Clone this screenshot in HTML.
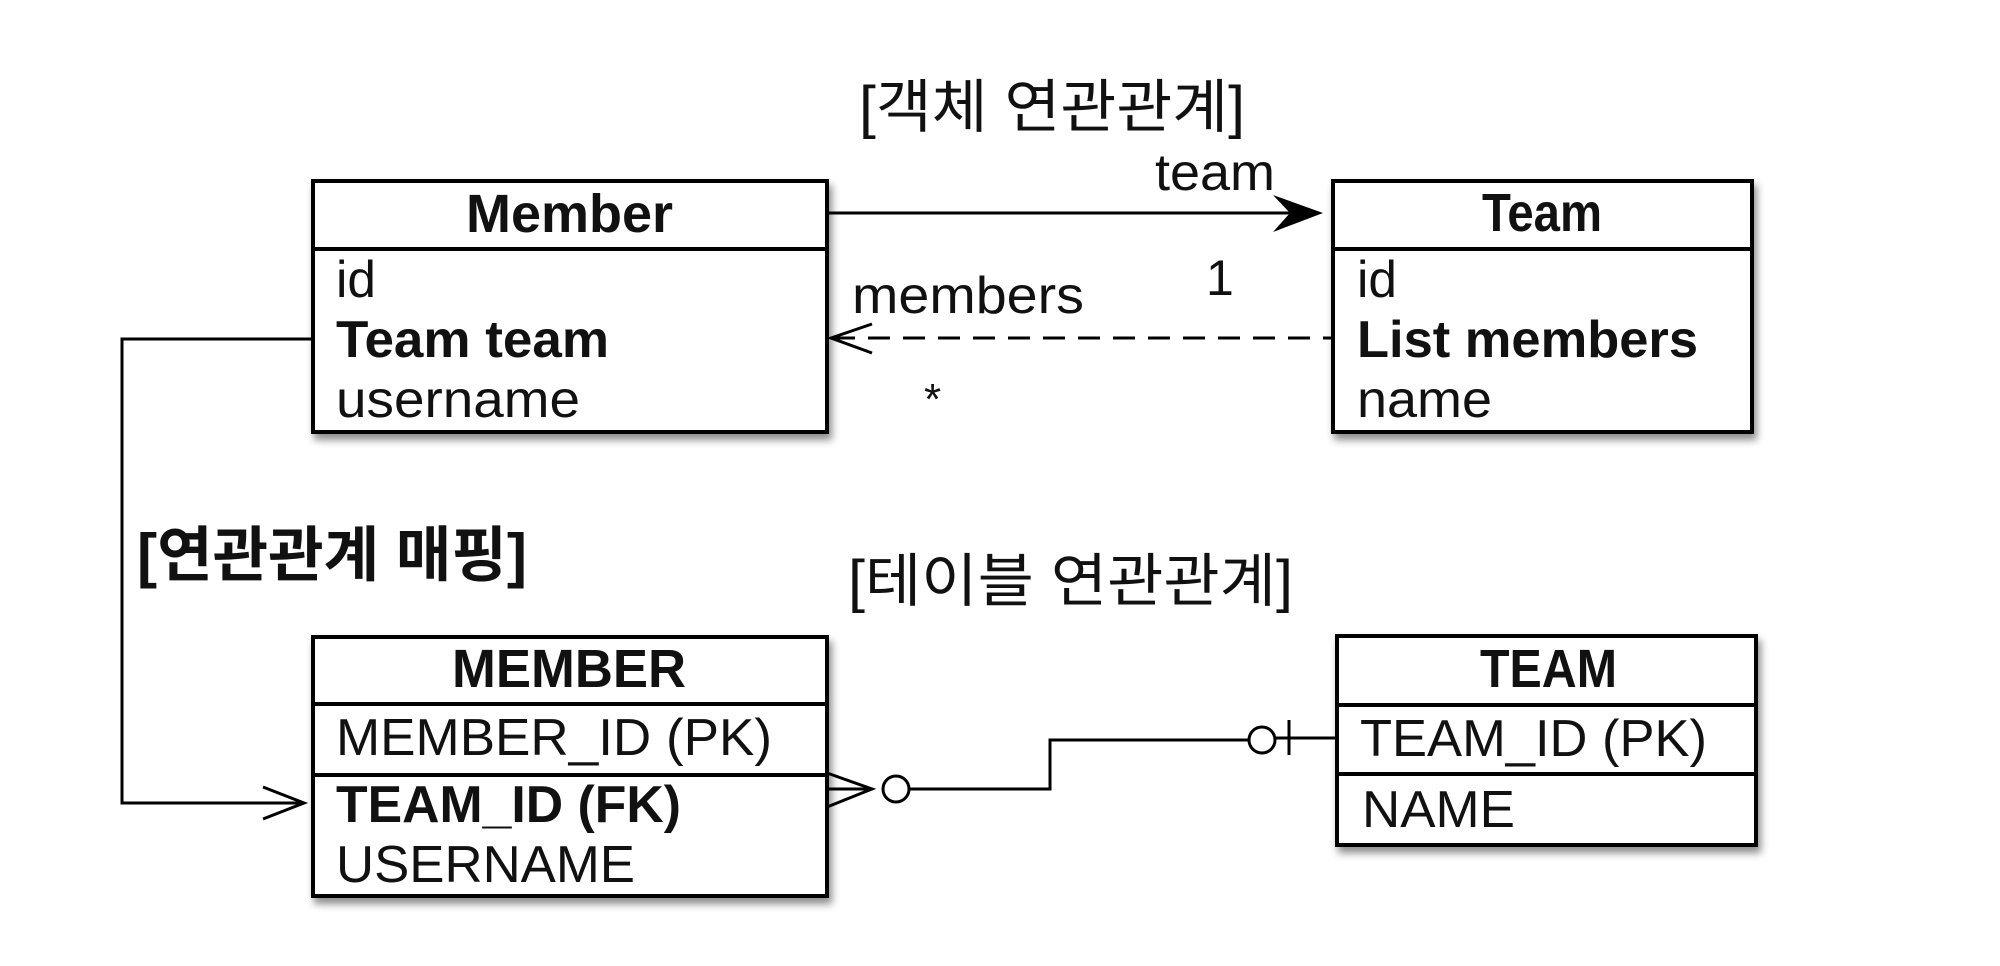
<!DOCTYPE html>
<html><head><meta charset="utf-8"><style>
html,body{margin:0;padding:0;background:#fff;}
svg{display:block;}
text{font-family:"Liberation Sans","Noto Sans CJK KR",sans-serif;fill:#111;}
.k{font-family:"Liberation Sans","Noto Sans CJK KR",sans-serif;}
</style></head><body>
<svg width="2000" height="966" viewBox="0 0 2000 966" xmlns="http://www.w3.org/2000/svg">
<defs>
<filter id="sh" x="-5%" y="-5%" width="115%" height="120%">
<feDropShadow dx="3" dy="6" stdDeviation="4" flood-color="#000" flood-opacity="0.45"/>
</filter>
</defs>

<!-- Titles -->
<text class="k" x="859" y="127" font-size="58" textLength="386" lengthAdjust="spacingAndGlyphs">[객체 연관관계]</text>
<text class="k" x="848" y="601" font-size="58" textLength="445" lengthAdjust="spacingAndGlyphs">[테이블 연관관계]</text>
<text class="k" x="137" y="576" font-size="60" font-weight="bold" textLength="390" lengthAdjust="spacingAndGlyphs">[연관관계 매핑]</text>

<!-- Member box -->
<g filter="url(#sh)">
<rect x="313" y="181" width="514" height="251" fill="#fff" stroke="#000" stroke-width="4"/>
</g>
<line x1="313" y1="249" x2="827" y2="249" stroke="#000" stroke-width="4"/>
<text x="466" y="232" font-size="54" font-weight="bold" textLength="207" lengthAdjust="spacingAndGlyphs">Member</text>
<text x="336" y="297" font-size="52" textLength="40" lengthAdjust="spacingAndGlyphs">id</text>
<text x="336" y="357" font-size="52" font-weight="bold" textLength="273" lengthAdjust="spacingAndGlyphs">Team team</text>
<text x="336" y="417" font-size="52" textLength="244" lengthAdjust="spacingAndGlyphs">username</text>

<!-- Team box -->
<g filter="url(#sh)">
<rect x="1333" y="181" width="419" height="251" fill="#fff" stroke="#000" stroke-width="4"/>
</g>
<line x1="1333" y1="249" x2="1752" y2="249" stroke="#000" stroke-width="4"/>
<text x="1482" y="231" font-size="54" font-weight="bold" textLength="120" lengthAdjust="spacingAndGlyphs">Team</text>
<text x="1357" y="297" font-size="52" textLength="40" lengthAdjust="spacingAndGlyphs">id</text>
<text x="1357" y="357" font-size="52" font-weight="bold" textLength="341" lengthAdjust="spacingAndGlyphs">List members</text>
<text x="1357" y="417" font-size="52" textLength="135" lengthAdjust="spacingAndGlyphs">name</text>

<!-- MEMBER table -->
<g filter="url(#sh)">
<rect x="313" y="637" width="514" height="259" fill="#fff" stroke="#000" stroke-width="4"/>
</g>
<line x1="313" y1="704" x2="827" y2="704" stroke="#000" stroke-width="4"/>
<line x1="313" y1="775" x2="827" y2="775" stroke="#000" stroke-width="4"/>
<text x="452" y="687" font-size="54" font-weight="bold" textLength="234" lengthAdjust="spacingAndGlyphs">MEMBER</text>
<text x="336" y="755" font-size="52" textLength="436" lengthAdjust="spacingAndGlyphs">MEMBER_ID (PK)</text>
<text x="336" y="822" font-size="52" font-weight="bold" textLength="345" lengthAdjust="spacingAndGlyphs">TEAM_ID (FK)</text>
<text x="336" y="882" font-size="52" textLength="299" lengthAdjust="spacingAndGlyphs">USERNAME</text>

<!-- TEAM table -->
<g filter="url(#sh)">
<rect x="1337" y="636" width="419" height="209" fill="#fff" stroke="#000" stroke-width="4"/>
</g>
<line x1="1337" y1="705" x2="1756" y2="705" stroke="#000" stroke-width="4"/>
<line x1="1337" y1="774" x2="1756" y2="774" stroke="#000" stroke-width="4"/>
<text x="1480" y="687" font-size="54" font-weight="bold" textLength="137" lengthAdjust="spacingAndGlyphs">TEAM</text>
<text x="1360" y="756" font-size="52" textLength="347" lengthAdjust="spacingAndGlyphs">TEAM_ID (PK)</text>
<text x="1362" y="827" font-size="52" textLength="153" lengthAdjust="spacingAndGlyphs">NAME</text>

<!-- team arrow -->
<line x1="827" y1="213" x2="1318" y2="213" stroke="#000" stroke-width="3"/>
<path d="M1323 213 L1273 195 L1290 213 L1273 232 Z" fill="#000"/>
<text x="1155" y="190" font-size="52" textLength="120" lengthAdjust="spacingAndGlyphs">team</text>
<text x="1206" y="295" font-size="50">1</text>

<!-- members dashed -->
<line x1="833" y1="338" x2="1333" y2="338" stroke="#000" stroke-width="3" stroke-dasharray="22,13"/>
<path d="M872 324 L831 338 L872 353" fill="none" stroke="#000" stroke-width="3"/>
<text x="852" y="313" font-size="52" textLength="232" lengthAdjust="spacingAndGlyphs">members</text>
<text x="924" y="414" font-size="44">*</text>

<!-- mapping connector -->
<path d="M313 339 L122 339 L122 803 L303 803" fill="none" stroke="#000" stroke-width="3"/>
<path d="M263 787 L304 803 L263 819" fill="none" stroke="#000" stroke-width="3"/>

<!-- ER connector -->
<path d="M827 773 L872 789 L827 807 M827 789 L872 789" fill="none" stroke="#000" stroke-width="3"/>
<circle cx="896" cy="789" r="13" fill="#fff" stroke="#000" stroke-width="3"/>
<path d="M909 789 L1050 789 L1050 740 L1249 740" fill="none" stroke="#000" stroke-width="3"/>
<circle cx="1262" cy="740" r="13" fill="#fff" stroke="#000" stroke-width="3"/>
<path d="M1275 738 L1337 738 M1289 720 L1289 755" fill="none" stroke="#000" stroke-width="3"/>
</svg>
</body></html>
